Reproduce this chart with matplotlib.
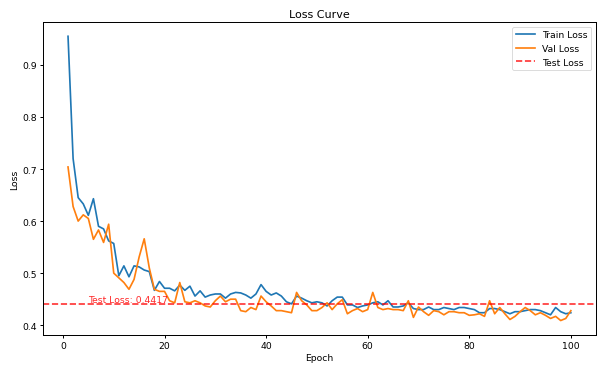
import matplotlib
matplotlib.use("Agg")
import matplotlib.pyplot as plt
import numpy as np

epochs = list(range(1, 101))
train_loss = [0.955, 0.72, 0.645, 0.633, 0.611, 0.643, 0.59, 0.585, 0.562, 0.557,
              0.495, 0.514, 0.493, 0.514, 0.512, 0.506, 0.503, 0.467, 0.484, 0.471,
              0.471, 0.466, 0.477, 0.467, 0.475, 0.456, 0.466, 0.454, 0.458, 0.46,
              0.46, 0.452, 0.46, 0.463, 0.462, 0.458, 0.452, 0.46, 0.478, 0.465,
              0.458, 0.462, 0.456, 0.445, 0.441, 0.456, 0.452, 0.447, 0.443, 0.445,
              0.443, 0.437, 0.447, 0.454, 0.454, 0.439, 0.439, 0.434, 0.437, 0.439,
              0.443, 0.445, 0.439, 0.447, 0.435, 0.435, 0.437, 0.443, 0.432, 0.43,
              0.43, 0.435, 0.43, 0.43, 0.434, 0.432, 0.43, 0.434, 0.434, 0.432,
              0.43, 0.424, 0.424, 0.432, 0.432, 0.43, 0.426, 0.422, 0.426, 0.426,
              0.428, 0.43, 0.43, 0.428, 0.424, 0.42, 0.434, 0.426, 0.422, 0.424]
val_loss = [0.704, 0.628, 0.60, 0.612, 0.605, 0.565, 0.583, 0.559, 0.594, 0.50,
            0.491, 0.482, 0.469, 0.488, 0.531, 0.566, 0.51, 0.469, 0.465, 0.465,
            0.447, 0.443, 0.482, 0.445, 0.443, 0.447, 0.443, 0.437, 0.435, 0.447,
            0.456, 0.445, 0.45, 0.45, 0.428, 0.426, 0.434, 0.43, 0.456, 0.445,
            0.437, 0.428, 0.428, 0.426, 0.424, 0.463, 0.447, 0.439, 0.428, 0.428,
            0.434, 0.443, 0.43, 0.441, 0.449, 0.422, 0.428, 0.432, 0.426, 0.43,
            0.463, 0.434, 0.43, 0.432, 0.43, 0.43, 0.428, 0.447, 0.415, 0.435,
            0.426, 0.419, 0.428, 0.426, 0.42, 0.426, 0.426, 0.424, 0.424, 0.419,
            0.42, 0.422, 0.417, 0.447, 0.422, 0.434, 0.422, 0.411, 0.417, 0.426,
            0.434, 0.428, 0.42, 0.424, 0.419, 0.413, 0.417, 0.409, 0.413, 0.428]
test_loss = 0.4417

plt.rcParams.update({"font.size": 11, "axes.linewidth": 1.2,
                     "xtick.major.width": 1.2, "ytick.major.width": 1.2})
fig, ax = plt.subplots(figsize=(10, 6.155), dpi=60.6)
ax.plot(epochs, train_loss, label="Train Loss", color="#1f77b4", lw=2)
ax.plot(epochs, val_loss, label="Val Loss", color="#ff7f0e", lw=2)
ax.axhline(test_loss, color="red", linestyle="--", label="Test Loss", alpha=0.8, lw=2)
ax.text(5, test_loss + 0.003, f"Test Loss: {test_loss:.4f}", color="red", alpha=0.85)
ax.set_title("Loss Curve")
ax.set_xlabel("Epoch")
ax.set_ylabel("Loss")
ax.legend()
fig.tight_layout()
fig.savefig("out.png", dpi=60.6)
